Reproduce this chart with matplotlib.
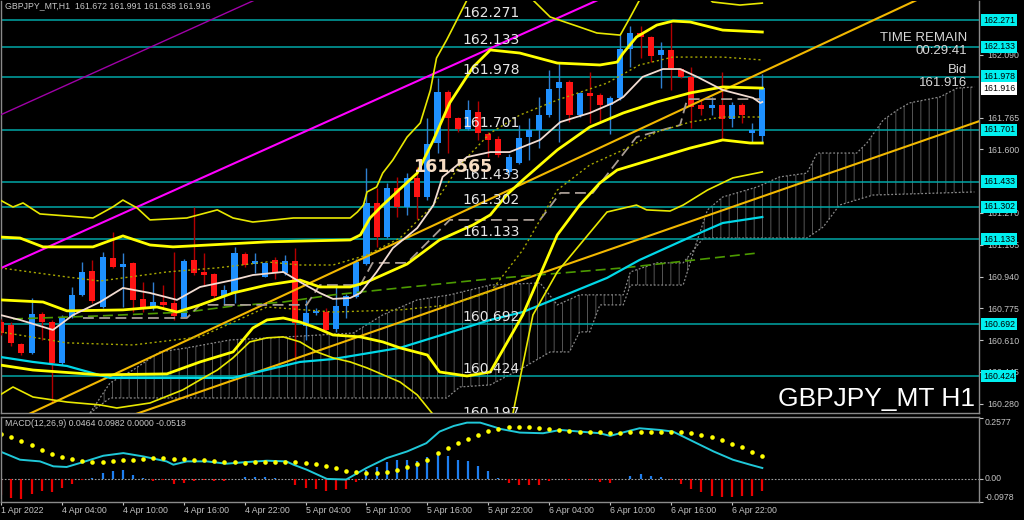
import matplotlib
matplotlib.use('Agg')
import matplotlib.pyplot as plt
import matplotlib.transforms as mtransforms
from matplotlib.patches import Rectangle, Polygon
from matplotlib import font_manager

# GBPJPY H1, bar 0 = 1 Apr 22:00 ... bar 75 = 7 Apr 01:00
opens = [160.706, 160.689, 160.588, 160.542, 160.746, 160.706, 160.493, 160.732, 160.844, 160.970,
         160.780, 161.034, 160.988, 161.008, 160.822, 160.780, 160.810, 160.804, 160.732, 161.026,
         160.965, 160.953, 160.839, 160.862, 161.057, 161.003, 160.939, 161.026, 160.957, 161.021,
         160.683, 160.753, 160.758, 160.666, 160.787, 160.836, 161.005, 161.320, 161.147, 161.401,
         161.303, 161.453, 161.351, 161.631, 161.896, 161.761, 161.704, 161.795, 161.680, 161.652,
         161.484, 161.527, 161.666, 161.700, 161.778, 161.916, 161.951, 161.778, 161.891, 161.882,
         161.830, 161.865, 162.119, 162.202, 162.181, 162.089, 162.115, 162.015, 161.977, 161.830,
         161.813, 161.830, 161.756, 161.830, 161.683, 161.672]
highs = [160.718, 160.706, 160.597, 160.827, 160.758, 160.715, 160.740, 160.888, 161.017, 161.026,
         161.069, 161.173, 161.060, 161.017, 160.913, 160.913, 160.896, 161.069, 161.029, 161.300,
         161.060, 160.960, 160.896, 161.091, 161.069, 161.060, 161.017, 161.043, 161.052, 161.086,
         160.818, 160.775, 160.775, 160.896, 160.849, 161.029, 161.501, 161.398, 161.424, 161.458,
         161.476, 161.510, 161.761, 161.968, 161.908, 161.766, 161.856, 161.853, 161.692, 161.669,
         161.575, 161.726, 161.761, 161.873, 162.012, 162.046, 161.960, 161.899, 162.003, 161.891,
         161.877, 162.193, 162.240, 162.240, 162.188, 162.159, 162.254, 162.020, 162.029, 161.859,
         161.873, 162.003, 161.847, 161.842, 161.735, 161.991]
lows = [160.637, 160.580, 160.533, 160.538, 160.611, 160.291, 160.481, 160.723, 160.839, 160.801,
        160.775, 160.983, 160.784, 160.758, 160.758, 160.766, 160.775, 160.715, 160.728, 160.948,
        160.896, 160.827, 160.792, 160.801, 160.991, 160.957, 160.936, 160.926, 160.948, 160.507,
        160.611, 160.740, 160.645, 160.654, 160.723, 160.827, 161.000, 161.095, 161.138, 161.251,
        161.259, 161.237, 161.337, 161.579, 161.579, 161.692, 161.700, 161.648, 161.562, 161.562,
        161.467, 161.524, 161.545, 161.605, 161.770, 161.640, 161.744, 161.770, 161.735, 161.735,
        161.680, 161.856, 162.029, 162.072, 162.055, 161.917, 161.908, 161.968, 161.709, 161.778,
        161.778, 161.648, 161.718, 161.735, 161.631, 161.638]
closes = [160.645, 160.593, 160.542, 160.746, 160.706, 160.490, 160.732, 160.844, 160.962, 160.813,
          161.040, 160.991, 161.005, 160.818, 160.780, 160.810, 160.792, 160.735, 161.022, 160.960,
          160.948, 160.839, 160.870, 161.064, 161.000, 161.022, 161.012, 160.957, 161.022, 160.697,
          160.753, 160.763, 160.663, 160.787, 160.839, 161.017, 161.323, 161.147, 161.401, 161.303,
          161.453, 161.351, 161.628, 161.899, 161.761, 161.704, 161.804, 161.683, 161.648, 161.571,
          161.562, 161.657, 161.700, 161.778, 161.911, 161.951, 161.778, 161.891, 161.877, 161.830,
          161.865, 162.119, 162.202, 162.181, 162.084, 162.115, 162.020, 161.977, 161.821, 161.808,
          161.830, 161.756, 161.830, 161.778, 161.700, 161.916]

xtick_pos = [0, 6, 12, 18, 24, 30, 36, 42, 48, 54, 60, 66, 72]
xtick_labels = ['1 Apr 2022', '4 Apr 04:00', '4 Apr 10:00', '4 Apr 16:00', '4 Apr 22:00',
                '5 Apr 04:00', '5 Apr 10:00', '5 Apr 16:00', '5 Apr 22:00', '6 Apr 04:00',
                '6 Apr 10:00', '6 Apr 16:00', '6 Apr 22:00']
# scale labels that are not covered by the level boxes
price_ticks = [160.280, 160.445, 160.610, 160.775, 160.940, 161.105, 161.270,
               161.600, 161.765, 162.090]

# horizontal levels
levels = [162.271, 162.133, 161.978, 161.701, 161.433, 161.302, 161.133, 160.692, 160.424, 160.197]
bid = 161.916

# bollinger bands
bb_up3_x = [-0.1, 1.17, 2.16, 3.83, 9.05, 11.0, 12.0, 13.4, 14.67, 18.3, 21.3, 22.85, 24.8, 28.8,
            34.4, 35.1, 35.7, 36.05, 37.0, 37.6, 38.6, 40.0, 41.3, 42.3, 42.9, 43.9, 44.9, 45.9,
            48.2, 50.1, 52.4, 54.1, 57.0, 58.7, 61.0, 62.0, 62.9, 64.9, 67.9, 70.1, 72.8, 75.0]
bb_up3_y = [161.337, 161.301, 161.322, 161.265, 161.244, 161.301, 161.337, 161.296, 161.234, 161.244,
            161.286, 161.244, 161.223, 161.244, 161.244, 161.275, 161.311, 161.379, 161.405, 161.477,
            161.545, 161.664, 161.737, 161.908, 162.074, 162.168, 162.271, 162.375, 162.58, 162.53,
            162.375, 162.287, 162.235, 162.204, 162.193, 162.287, 162.375, 162.58, 162.48, 162.365,
            162.349, 162.359]
bb_up2_x = [-0.1, 1.86, 4.13, 9.05, 12.0, 14.67, 16.94, 26.2, 34.4, 35.4, 36.35, 37.6, 41.0, 42.6,
            44.2, 46.5, 48.2, 51.1, 54.8, 59.0, 60.7, 61.3, 62.6, 64.6, 66.2, 67.9, 71.1, 75.0]
bb_up2_y = [161.145, 161.140, 161.094, 161.094, 161.151, 161.104, 161.094, 161.120, 161.130, 161.156,
            161.244, 161.311, 161.477, 161.649, 161.841, 162.027, 162.116, 162.100, 162.048, 162.038,
            162.053, 162.100, 162.183, 162.245, 162.266, 162.261, 162.219, 162.209]
bb_up1_x = [-0.1, 6.49, 9.74, 16.34, 21.3, 26.2, 29.45, 32.7, 36.05, 39.3, 42.6, 45.2, 48.2, 51.1,
            54.8, 59.7, 62.9, 66.2, 71.1, 75.0]
bb_up1_y = [160.985, 160.938, 160.917, 160.964, 160.985, 161.016, 161.000, 161.000, 161.052, 161.140,
            161.311, 161.519, 161.685, 161.778, 161.856, 161.944, 162.038, 162.079, 162.079, 162.064]
bb_mid_x = [-0.1, 4.13, 6.49, 12.0, 15.36, 17.33, 19.6, 22.85, 26.2, 29.45, 31.4, 34.4, 36.05, 40.0,
            43.2, 46.5, 48.2, 49.8, 51.4, 54.8, 58.0, 61.3, 64.6, 67.9, 71.1, 75.0]
bb_mid_y = [160.819, 160.808, 160.762, 160.767, 160.782, 160.756, 160.793, 160.855, 160.896, 160.922,
            160.886, 160.886, 160.912, 161.005, 161.130, 161.208, 161.260, 161.363, 161.441, 161.597,
            161.716, 161.789, 161.846, 161.893, 161.924, 161.918]
bb_dn1_x = [-0.1, 6.49, 13.0, 19.6, 26.2, 32.7, 39.3, 44.2, 48.2, 51.4, 54.8, 58.0, 61.3, 64.6,
            67.9, 71.1, 75.0]
bb_dn1_y = [160.653, 160.596, 160.585, 160.627, 160.782, 160.756, 160.767, 160.793, 160.860, 161.078,
            161.389, 161.519, 161.597, 161.690, 161.742, 161.768, 161.768]
bb_dn2_x = [-0.1, 3.14, 9.74, 16.34, 19.6, 22.85, 24.8, 26.2, 27.8, 29.45, 31.1, 32.7, 35.4, 37.6,
            39.3, 42.0, 43.2, 45.9, 48.2, 51.4, 54.8, 57.0, 59.0, 60.7, 64.6, 67.9, 71.1, 73.8, 75.0]
bb_dn2_y = [160.481, 160.455, 160.430, 160.435, 160.497, 160.549, 160.673, 160.715, 160.725, 160.704,
            160.673, 160.637, 160.627, 160.601, 160.570, 160.533, 160.445, 160.424, 160.445, 160.741,
            161.156, 161.311, 161.426, 161.493, 161.555, 161.607, 161.649, 161.633, 161.633]
bb_dn3_x = [-0.1, 1.17, 3.14, 6.49, 9.74, 11.4, 14.67, 17.9, 19.6, 21.3, 22.85, 24.5, 26.2, 27.8,
            29.45, 31.1, 32.7, 34.4, 36.05, 39.3, 41.0, 42.6, 45.2, 48.2, 50.4, 52.4, 54.8, 57.0,
            59.7, 62.6, 63.6, 65.9, 67.2, 69.6, 72.1, 75.0]
bb_dn3_y = [160.326, 160.367, 160.315, 160.289, 160.274, 160.258, 160.284, 160.352, 160.404, 160.455,
            160.518, 160.601, 160.622, 160.627, 160.601, 160.549, 160.518, 160.497, 160.466, 160.393,
            160.326, 160.222, 160.092, 160.066, 160.222, 160.741, 160.964, 161.104, 161.275, 161.311,
            161.286, 161.280, 161.311, 161.389, 161.452, 161.483]

# moving averages
ma_fast_x = [-0.1, 1.86, 5.11, 7.1, 9.74, 12.0, 14.67, 17.33, 19.6, 22.85, 24.8, 27.8, 29.45, 31.4,
             32.7, 34.4, 35.4, 37.0, 38.6, 41.0, 42.6, 43.5, 45.9, 48.2, 50.1, 53.1, 55.1, 58.0,
             60.3, 61.3, 63.2, 65.2, 66.9, 68.6, 71.1, 74.1, 74.8, 75.0]
ma_fast_y = [160.741, 160.715, 160.663, 160.741, 160.808, 160.881, 160.855, 160.819, 160.886, 160.922,
             160.948, 160.964, 160.912, 160.855, 160.824, 160.829, 160.855, 160.964, 161.088, 161.192,
             161.311, 161.457, 161.560, 161.586, 161.586, 161.649, 161.742, 161.789, 161.841, 161.872,
             161.976, 162.017, 162.017, 161.976, 161.908, 161.867, 161.841, 161.846]
ma_cyan_x = [-0.1, 3.14, 6.49, 10.73, 22.85, 29.45, 32.7, 39.3, 48.2, 51.4, 56.3, 59.7, 62.9, 67.9, 71.1, 75.0]
ma_cyan_y = [160.523, 160.497, 160.476, 160.414, 160.414, 160.497, 160.512, 160.570, 160.715, 160.756,
             160.860, 160.933, 161.026, 161.145, 161.218, 161.249]
ma_green_x = [1.17, 9.74, 18.3, 22.85, 27.8, 32.7, 39.3, 48.2, 61.3, 74.5]
ma_green_y = [160.720, 160.736, 160.756, 160.787, 160.808, 160.845, 160.881, 160.928, 160.985, 161.062]
tenkan_x = [8.07, 18.3, 19.6, 30.1, 31.4, 35.4, 36.6, 40.0, 44.2, 53.1, 55.1, 58.3, 62.6, 66.9, 67.6, 74.8]
tenkan_y = [160.725, 160.725, 160.793, 160.793, 160.896, 160.896, 161.011, 161.011, 161.234, 161.234,
            161.374, 161.374, 161.664, 161.726, 161.861, 161.861]

# ichimoku cloud spans
span_a_x = [8.76, 10.73, 13.0, 15.66, 18.3, 22.55, 28.2, 34.7, 37.6, 41.0, 44.2, 48.2, 53.1, 54.8,
            57.0, 61.3, 62.0, 64.6, 67.2, 69.2, 79.4, 81.0, 82.6, 85.9, 95.9]
span_a_y = [160.232, 160.388, 160.455, 160.549, 160.570, 160.611, 160.627, 160.647, 160.741, 160.819,
            160.845, 160.896, 160.907, 160.793, 160.845, 160.845, 160.964, 161.011, 161.011, 161.140,
            161.140, 161.197, 161.311, 161.363, 161.379]
span_b_x = [8.76, 10.73, 43.9, 45.2, 48.2, 51.4, 54.1, 56.0, 57.0, 58.0, 59.0, 61.3, 62.0, 67.2,
            68.6, 69.6, 71.1, 74.5, 76.7, 79.4, 80.4, 84.3, 85.3, 86.9, 88.3, 89.5, 92.5, 94.2, 95.9]
span_b_y = [160.232, 160.310, 160.310, 160.367, 160.378, 160.466, 160.549, 160.549, 160.653, 160.653,
            160.793, 160.793, 160.896, 160.896, 161.130, 161.286, 161.353, 161.405, 161.457, 161.477,
            161.581, 161.581, 161.633, 161.752, 161.804, 161.841, 161.872, 161.918, 161.924]

# trend lines
gold_a_x, gold_a_y = [-0.1, 96.4], [160.157, 162.527]
gold_b_x, gold_b_y = [-0.1, 96.4], [159.982, 161.747]
mag_x, mag_y = [-0.1, 70.0], [160.982, 162.640]
mag_thin_x, mag_thin_y = [-0.1, 35.0], [161.778, 162.613]

# MACD
macd_x = [-0.1, 1.86, 3.83, 5.15, 6.46, 7.77, 10.07, 12.04, 14.0, 16.3, 16.97, 18.3, 20.25, 22.2,
          24.2, 26.2, 28.1, 28.8, 30.1, 32.1, 34.0, 36.0, 38.0, 40.0, 41.0, 41.9, 43.2, 44.6, 45.9,
          47.2, 48.5, 49.2, 51.1, 53.4, 55.1, 57.0, 59.0, 60.0, 61.6, 62.9, 64.9, 66.2, 68.2, 70.2,
          72.1, 73.8, 75.0]
macd_y = [0.1169, 0.0817, 0.0746, 0.0535, 0.0507, 0.0676, 0.0986, 0.1099, 0.0958, 0.0746,
          0.0605, 0.0746, 0.0746, 0.0647, 0.0718, 0.0774, 0.0746, 0.0605, 0.0394, -0.0001,
          -0.0028, 0.0464, 0.0887, 0.1169, 0.1353, 0.1522, 0.2016, 0.2256, 0.2397, 0.2397,
          0.2227, 0.2129, 0.1973, 0.1945, 0.2086, 0.2016, 0.1945, 0.1832, 0.2016, 0.2157,
          0.2086, 0.2016, 0.1592, 0.1169, 0.0817, 0.0605, 0.0464]
signal = [0.1917, 0.1776, 0.1621, 0.1438, 0.1240, 0.1057, 0.0915, 0.0831, 0.0746, 0.0718,
          0.0732, 0.0760, 0.0788, 0.0817, 0.0859, 0.0874, 0.0874, 0.0859, 0.0845, 0.0817,
          0.0803, 0.0760, 0.0718, 0.0703, 0.0690, 0.0703, 0.0718, 0.0718, 0.0718, 0.0703,
          0.0662, 0.0619, 0.0534, 0.0450, 0.0337, 0.0295, 0.0267, 0.0267, 0.0309, 0.0379,
          0.0520, 0.0648, 0.0817, 0.1084, 0.1310, 0.1536, 0.1719, 0.1874, 0.2030, 0.2129,
          0.2200, 0.2228, 0.2200, 0.2172, 0.2143, 0.2087, 0.2058, 0.2017, 0.1989, 0.1989,
          0.1960, 0.1960, 0.1989, 0.1989, 0.2003, 0.2003, 0.2003, 0.1989, 0.1960, 0.1875,
          0.1805, 0.1664, 0.1495, 0.1354, 0.1157, 0.0982]
hist = [-0.0705, -0.0804, -0.0846, -0.0663, -0.0522, -0.0564, -0.0395, -0.0197, -0.003, 0.004,
        0.0254, 0.0324, 0.0367, 0.0183, 0.002, -0.0099, -0.004, -0.0197, -0.0169, -0.007,
        -0.006, -0.008, -0.011, 0.001, 0.007, 0.006, 0.007, 0.002, 0.001, -0.024,
        -0.038, -0.045, -0.052, -0.049, -0.041, -0.014, 0.037, 0.051, 0.071, 0.082,
        0.082, 0.075, 0.093, 0.113, 0.099, 0.082, 0.075, 0.054, 0.032, 0.004,
        -0.017, -0.028, -0.028, -0.025, -0.011, -0.002, -0.006, -0.002, -0.006, -0.014,
        -0.017, -0.001, 0.014, 0.020, 0.014, 0.007, -0.006, -0.020, -0.045, -0.056,
        -0.071, -0.076, -0.076, -0.073, -0.071, -0.0518]


def pick_font(names):
    for n in names:
        try:
            font_manager.findfont(font_manager.FontProperties(family=n), fallback_to_default=False)
            return n
        except Exception:
            pass
    return 'DejaVu Sans'


small_font = pick_font(['Liberation Sans', 'DejaVu Sans'])
narrow_font = pick_font(['Liberation Sans Narrow', 'Liberation Sans'])
narrow_size = 11 if narrow_font == 'Liberation Sans Narrow' else 9.5
plt.rcParams['hatch.linewidth'] = 0.7

W, H = 1024, 520
fig = plt.figure(figsize=(W / 100, H / 100), dpi=100)
fig.patch.set_facecolor('black')
ax = fig.add_axes([1 / W, 1 - 413 / H, 978 / W, 412 / H])
axm = fig.add_axes([1 / W, 1 - 502 / H, 978 / W, 85 / H])

for a in (ax, axm):
    a.set_facecolor('black')
    a.set_xlim(-0.01, 96.35)
    for s in a.spines.values():
        s.set_color('#8a8a8a')
        s.set_linewidth(1)
ax.spines['top'].set_visible(False)

# ---- main price panel ----
ax.set_ylim(160.232, 162.370)

cloud = list(zip(span_a_x, span_a_y)) + list(zip(span_b_x, span_b_y))[::-1]
ax.add_patch(Polygon(cloud, closed=True, facecolor='none', edgecolor='#555555',
                     hatch='||', lw=0, zorder=1))
ax.plot(span_a_x, span_a_y, ls=(0, (1.5, 1.5)), color='#8a8a8a', lw=0.9, zorder=1)
ax.plot(span_b_x, span_b_y, ls=(0, (1.5, 1.5)), color='#8a8a8a', lw=0.9, zorder=1)

for lvl in levels:
    ax.axhline(lvl, color='#00a6a6', lw=1.1, zorder=2)

for i in range(len(opens)):
    o, h, l, c = opens[i], highs[i], lows[i], closes[i]
    up = c >= o
    body = '#1e90ff' if up else '#ff1414'
    wick = '#2f7fd0' if up else '#b40000'
    ax.vlines(i, l, h, color=wick, lw=1, zorder=3)
    ax.add_patch(Rectangle((i - 0.3, min(o, c)), 0.6, max(abs(c - o), 0.004),
                           facecolor=body, edgecolor='none', zorder=4))

ax.plot(mag_thin_x, mag_thin_y, color='#a000a8', lw=1, zorder=5)
ax.plot(mag_x, mag_y, color='#ff00ff', lw=1.5, zorder=5)
ax.plot(gold_a_x, gold_a_y, color='#f2b800', lw=1.5, zorder=5)
ax.plot(gold_b_x, gold_b_y, color='#f2b800', lw=1.5, zorder=5)
ax.plot(ma_green_x, ma_green_y, color='#4c9a00', lw=1.2, ls=(0, (6, 3)), zorder=5)
ax.plot(tenkan_x, tenkan_y, color='#a89c94', lw=1.3, ls=(0, (6, 3)), zorder=5)
ax.plot(ma_cyan_x, ma_cyan_y, color='#00d8e8', lw=1.6, zorder=5)

ax.plot(bb_up3_x, bb_up3_y, color='#e8e800', lw=1.2, zorder=6)
ax.plot(bb_dn3_x, bb_dn3_y, color='#e8e800', lw=1.2, zorder=6)
ax.plot(bb_up2_x, bb_up2_y, color='#ffff00', lw=2.0, zorder=6)
ax.plot(bb_dn2_x, bb_dn2_y, color='#ffff00', lw=2.0, zorder=6)
ax.plot(bb_mid_x, bb_mid_y, color='#ffff00', lw=2.0, zorder=6)
ax.plot(bb_up1_x, bb_up1_y, color='#a8a800', lw=1, ls=(0, (1.5, 2)), zorder=6)
ax.plot(bb_dn1_x, bb_dn1_y, color='#a8a800', lw=1, ls=(0, (1.5, 2)), zorder=6)
ax.plot(ma_fast_x, ma_fast_y, color='#f2dcd2', lw=1.3, zorder=6)

for lvl in levels:
    ax.text(45.5, lvl, f'{lvl:.3f}', color='#e6e6e6', fontsize=10, ha='left', va='bottom',
            zorder=8, clip_on=True)
ax.text(40.6, 161.509, '161.565', color='#f6dcc2', fontsize=12.5, fontweight='bold',
        ha='left', va='center', zorder=9)

ax.set_xticks([])
ax.yaxis.tick_right()
ax.set_yticks(price_ticks)
ax.set_yticklabels([f'{v:.3f}' for v in price_ticks], family=small_font)
ax.tick_params(axis='y', colors='#c4c4c4', labelsize=6.3, length=3, width=0.8, pad=3)

blend = mtransforms.blended_transform_factory(ax.transAxes, ax.transData)
for lvl in levels[:-1]:
    ax.text(1 + 4 / 978, lvl, f'{lvl:.3f}', transform=blend, ha='left', va='center',
            fontsize=6.3, family=small_font, color='black', clip_on=False, zorder=20,
            bbox=dict(boxstyle='square,pad=0.18', fc='#00f0f0', ec='none'))
ax.text(1 + 4 / 978, bid, f'{bid:.3f}', transform=blend, ha='left', va='center',
        fontsize=6.3, family=small_font, color='black', clip_on=False, zorder=20,
        bbox=dict(boxstyle='square,pad=0.18', fc='white', ec='none'))

# ---- MACD panel ----
axm.set_ylim(-0.0985, 0.2637)
axm.axhline(0, color='#a0a0a0', lw=0.8, ls=(0, (1.5, 1.5)))
for i, v in enumerate(hist):
    axm.vlines(i, 0, v, color='#1e7ff0' if v >= 0 else '#e80000', lw=1.6)
axm.plot(macd_x, macd_y, color='#20c8d8', lw=1.4)
axm.plot(range(len(signal)), signal, ls='none', marker='o', ms=3.3, color='#ffff00', mec='none')

axm.yaxis.tick_right()
axm.set_yticks([0.2577, 0.0, -0.0978])
axm.set_yticklabels(['', '', ''])
axm.tick_params(axis='y', colors='#c4c4c4', length=3, width=0.8)
mblend = mtransforms.blended_transform_factory(axm.transAxes, axm.transData)
for v, txt, va in [(0.2577, '0.2577', 'top'), (0.0, '0.00', 'center'), (-0.0978, '-0.0978', 'bottom')]:
    axm.text(1 + 6 / 978, v, txt, transform=mblend, ha='left', va=va, fontsize=6.3,
             family=small_font, color='#c4c4c4', clip_on=False)

axm.set_xticks(xtick_pos)
axm.set_xticklabels(xtick_labels, ha='left', family=small_font)
axm.tick_params(axis='x', colors='#c4c4c4', labelsize=6.3, length=2, width=0.8, pad=1)

# ---- overlay texts ----
fig.text(5 / W, 1 - 6 / H, 'GBPJPY_MT,H1  161.672 161.991 161.638 161.916', fontsize=6.3,
         family=small_font, color='#c8c8c8', ha='left', va='center')
fig.text(5 / W, 1 - 424 / H, 'MACD(12,26,9) 0.0464 0.0982 0.0000 -0.0518', fontsize=6.3,
         family=small_font, color='#c8c8c8', ha='left', va='center')
for txt, y in [('TIME REMAIN', 38), ('00:29:41', 51), ('Bid', 70), ('161.916', 83)]:
    fig.text(967 / W, 1 - y / H, txt, fontsize=narrow_size, family=narrow_font, color='#d8d8d8',
             ha='right', va='center')
fig.text(975 / W, 1 - 399 / H, 'GBPJPY_MT H1', fontsize=19, family=small_font, color='white',
         ha='right', va='center')

fig.savefig('out.png', dpi=100, facecolor='black')
